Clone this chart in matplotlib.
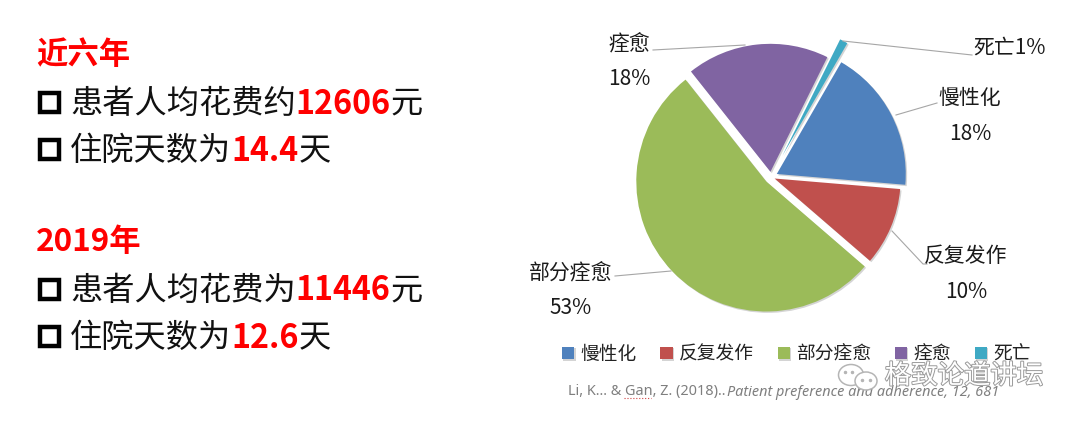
import matplotlib
matplotlib.use("Agg")
import matplotlib.pyplot as plt
import matplotlib.patheffects as pe
from matplotlib.patches import Rectangle, Ellipse

plt.rcParams['font.family'] = ['Noto Sans CJK SC', 'DejaVu Sans']

# data
categories = ['慢性化', '反复发作', '部分痊愈', '痊愈', '死亡']
shares = [18, 10, 53, 18, 1]
colors = ['#4f81bd', '#c0504d', '#9bbb59', '#8064a2', '#3fa9c4']
explode = [0.05, 0.03, 0.05, 0.04, 0.185]
radii = [129, 126, 130, 128, 130]

block_titles = ['近六年', '2019年']
block_lines = [
    [[('患者人均花费约', False), ('12606', True), ('元', False)],
     [('住院天数为', False), ('14.4', True), ('天', False)]],
    [[('患者人均花费为', False), ('11446', True), ('元', False)],
     [('住院天数为', False), ('12.6', True), ('天', False)]],
]
citation = 'Li, K... & Gan, Z. (2018).. '
journal = 'Patient preference and adherence, 12, 681'
watermark = '格致论道讲坛'

W, H = 1080, 425
fig = plt.figure(figsize=(W / 100, H / 100), dpi=100)
ax = fig.add_axes([0, 0, 1, 1])


def py(y):
    # pixel row in the picture -> axes y
    return H - y


def runs(x, y, parts, size=23.2):
    # write text pieces one after the other, red bold for the numbers
    r = fig.canvas.get_renderer()
    for s, hot in parts:
        t = ax.text(x, py(y), s, fontsize=size, va='center', ha='left',
                    color='#ff0000' if hot else '#111111',
                    fontweight='bold' if hot else 'normal')
        x = t.get_window_extent(r).x1


# pie (explode is in data units here, so scale it by the radius)
radius = 130
wedges, _ = ax.pie(shares, colors=colors, explode=[e * radius for e in explode],
                   startangle=60, counterclock=False, center=(771, py(177)),
                   radius=radius, frame=True,
                   wedgeprops=dict(lw=0, path_effects=[
                       pe.SimplePatchShadow(offset=(1, -1), alpha=0.25, shadow_rgbFace='#555555'),
                       pe.Normal()]))
for w, rad in zip(wedges, radii):
    w.set_radius(rad)
ax.set_xlim(0, W)
ax.set_ylim(0, H)
ax.set_aspect('equal')
ax.axis('off')

# left text blocks
title_y = [55, 242]
line_y = [[104, 151], [291, 338]]
box_y = [[103, 150], [290, 337]]
for i in range(2):
    ax.text(36, py(title_y[i]), block_titles[i], fontsize=22.6, color='#ff0000',
            fontweight='bold', va='center')
    for j in range(2):
        ax.add_patch(Rectangle((40, py(box_y[i][j]) - 9), 19, 19, fill=False,
                               ec='black', lw=3.2))
        runs(70, line_y[i][j], block_lines[i][j])

# leader lines
lead = '#a6a6a6'
ax.plot([653, 745], [py(50), py(45)], color=lead, lw=0.8)
ax.plot([843, 972], [py(41), py(55)], color=lead, lw=0.8)
ax.plot([896, 937], [py(115), py(103)], color=lead, lw=0.8)
ax.plot([892, 923, 927], [py(231), py(264), py(264)], color=lead, lw=0.8)
ax.plot([615, 671], [py(276), py(271)], color=lead, lw=0.8)

# pie labels
lab = dict(fontsize=15, color='#1a1a1a', ha='center', va='center')
ax.text(629, py(43), '痊愈', **lab)
ax.text(629, py(79), '18%', **lab)
ax.text(1010, py(48), '死亡1%', **lab)
ax.text(970, py(98), '慢性化', **lab)
ax.text(970, py(134), '18%', **lab)
ax.text(966, py(256), '反复发作', **lab)
ax.text(966, py(292), '10%', **lab)
ax.text(571, py(272), '部分痊愈', **lab)
ax.text(571, py(308), '53%', **lab)

# legend
leg = ax.legend(wedges, categories, ncol=5, frameon=False, fontsize=13.5,
                handlelength=0.65, handleheight=0.65, handletextpad=0.35,
                columnspacing=1.25, loc='center left', borderpad=0, borderaxespad=0,
                bbox_to_anchor=(562, py(354)), bbox_transform=ax.transData,
                labelcolor='#222222')

# citation
r = fig.canvas.get_renderer()
t = ax.text(568, py(392), citation, fontsize=10.4, color='#7f7f7f', va='center',
            family='Noto Sans')
x2 = t.get_window_extent(r).x1
ax.text(x2 - 2, py(392), journal, fontsize=10.4, color='#7f7f7f', va='center',
        style='italic', family='Noto Sans')
ax.plot([624, 651], [py(398), py(398)], color='#d04040', lw=0.8, ls=':')

# watermark with the chat icon
ax.add_patch(Ellipse((851, py(375)), 25, 21, fc='none', ec='#b5b5b5', lw=1.1, zorder=5))
ax.add_patch(Ellipse((866, py(381)), 22, 18, fc='white', ec='#b5b5b5', lw=1.1, zorder=5))
ax.plot([845, 852, 862, 870], [py(372), py(372), py(380), py(380)], ls='none',
        marker='o', ms=1.5, color='#b5b5b5', zorder=6)
ax.text(964, py(376), watermark, fontsize=19, color='white', ha='center', zorder=6,
        va='center', path_effects=[pe.withStroke(linewidth=1.4, foreground='#9a9a9a')])

fig.savefig('out.png', dpi=100)
